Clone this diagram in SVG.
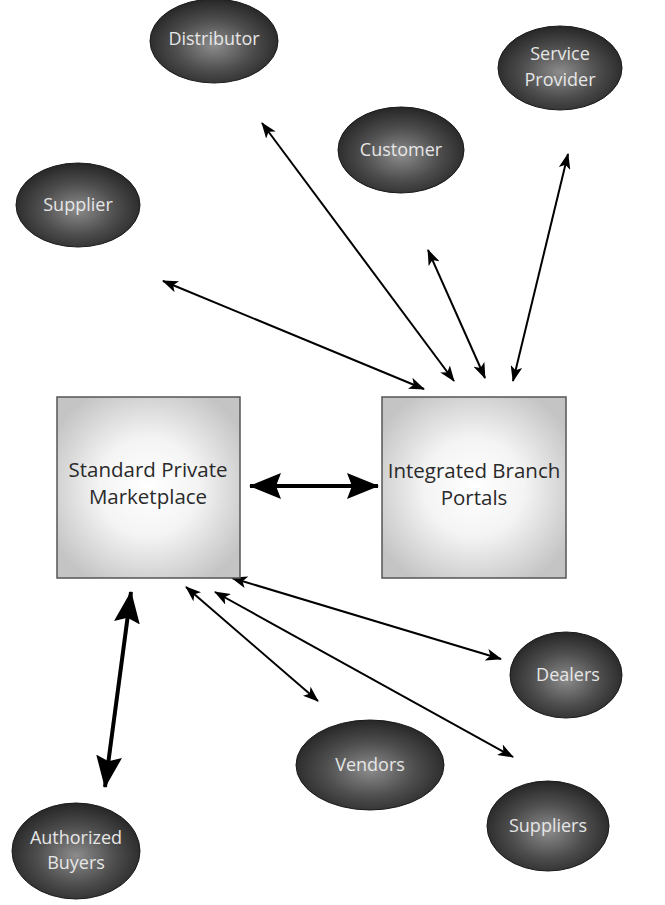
<svg xmlns="http://www.w3.org/2000/svg" width="665" height="905" viewBox="0 0 665 905">
  <defs>
    <radialGradient id="ballFill" cx="50%" cy="55%" r="55%">
      <stop offset="0" stop-color="#8c8c8c"/>
      <stop offset="0.55" stop-color="#4e4e4e"/>
      <stop offset="1" stop-color="#262626"/>
    </radialGradient>
    <radialGradient id="boxFill" cx="50%" cy="50%" r="60%">
      <stop offset="0" stop-color="#ffffff"/>
      <stop offset="0.45" stop-color="#f4f4f4"/>
      <stop offset="1" stop-color="#c4c4c4"/>
    </radialGradient>
    <marker id="tip" viewBox="0 0 16 12" refX="15" refY="6" markerWidth="16" markerHeight="12" markerUnits="userSpaceOnUse" orient="auto-start-reverse">
      <path d="M0,0 L16,6 L0,12 L4,6 Z" fill="#000"/>
    </marker>
    <marker id="bigTip" viewBox="0 0 32 26" refX="31" refY="13" markerWidth="32" markerHeight="26" markerUnits="userSpaceOnUse" orient="auto-start-reverse">
      <path d="M0,0 L32,13 L0,26 L5,13 Z" fill="#000"/>
    </marker>
  </defs>
  <style>
    .ball { fill: url(#ballFill); stroke: #1a1a1a; stroke-width: 1; }
    .ballText { font-family: "Open Sans", "Liberation Sans", sans-serif; font-size: 18px; fill: #e6e6e6; text-anchor: middle; }
    .box { fill: url(#boxFill); stroke: #555; stroke-width: 1.5; }
    .boxText { font-family: "Open Sans", "Liberation Sans", sans-serif; font-size: 20.5px; fill: #2a2a2a; text-anchor: middle; }
    .link { stroke: #000; stroke-width: 2; fill: none; marker-start: url(#tip); marker-end: url(#tip); }
    .heavy { stroke: #000; stroke-width: 4; fill: none; marker-start: url(#bigTip); marker-end: url(#bigTip); }
  </style>
  <rect width="665" height="905" fill="#fff"/>

  <g id="connectors">
    <line class="link" x1="163" y1="281" x2="424" y2="389"/>
    <line class="link" x1="262" y1="123" x2="454" y2="381"/>
    <line class="link" x1="428" y1="250" x2="485" y2="378"/>
    <line class="link" x1="568" y1="154" x2="513" y2="381"/>
    <line class="heavy" x1="250" y1="486" x2="378" y2="486"/>
    <line class="heavy" x1="131" y1="592" x2="105" y2="787"/>
    <line class="link" x1="186" y1="587" x2="318" y2="701"/>
    <line class="link" x1="215" y1="592" x2="513" y2="757"/>
    <line class="link" x1="232" y1="578" x2="501" y2="659"/>
  </g>

  <g id="distributor">
    <ellipse class="ball" cx="214" cy="41" rx="64" ry="42"/>
    <text class="ballText" x="214" y="45">Distributor</text>
  </g>
  <g id="service-provider">
    <ellipse class="ball" cx="560" cy="68" rx="62" ry="42"/>
    <text class="ballText" x="560" y="60">Service</text>
    <text class="ballText" x="560" y="86">Provider</text>
  </g>
  <g id="customer">
    <ellipse class="ball" cx="401" cy="150" rx="63" ry="43"/>
    <text class="ballText" x="401" y="156">Customer</text>
  </g>
  <g id="supplier">
    <ellipse class="ball" cx="78" cy="205" rx="62" ry="42"/>
    <text class="ballText" x="78" y="211">Supplier</text>
  </g>

  <g id="standard-private-marketplace">
    <rect class="box" x="57" y="397" width="183" height="181"/>
    <text class="boxText" x="148" y="477">Standard Private</text>
    <text class="boxText" x="148" y="504">Marketplace</text>
  </g>
  <g id="integrated-branch-portals">
    <rect class="box" x="382" y="397" width="184" height="181"/>
    <text class="boxText" x="474" y="478">Integrated Branch</text>
    <text class="boxText" x="474" y="505">Portals</text>
  </g>

  <g id="dealers">
    <ellipse class="ball" cx="566" cy="675" rx="56" ry="43"/>
    <text class="ballText" x="568" y="681">Dealers</text>
  </g>
  <g id="vendors">
    <ellipse class="ball" cx="370" cy="765" rx="74" ry="45"/>
    <text class="ballText" x="370" y="771">Vendors</text>
  </g>
  <g id="suppliers">
    <ellipse class="ball" cx="548" cy="826" rx="61" ry="45"/>
    <text class="ballText" x="548" y="832">Suppliers</text>
  </g>
  <g id="authorized-buyers">
    <ellipse class="ball" cx="76" cy="851" rx="64" ry="48"/>
    <text class="ballText" x="76" y="844">Authorized</text>
    <text class="ballText" x="76" y="869">Buyers</text>
  </g>
</svg>
